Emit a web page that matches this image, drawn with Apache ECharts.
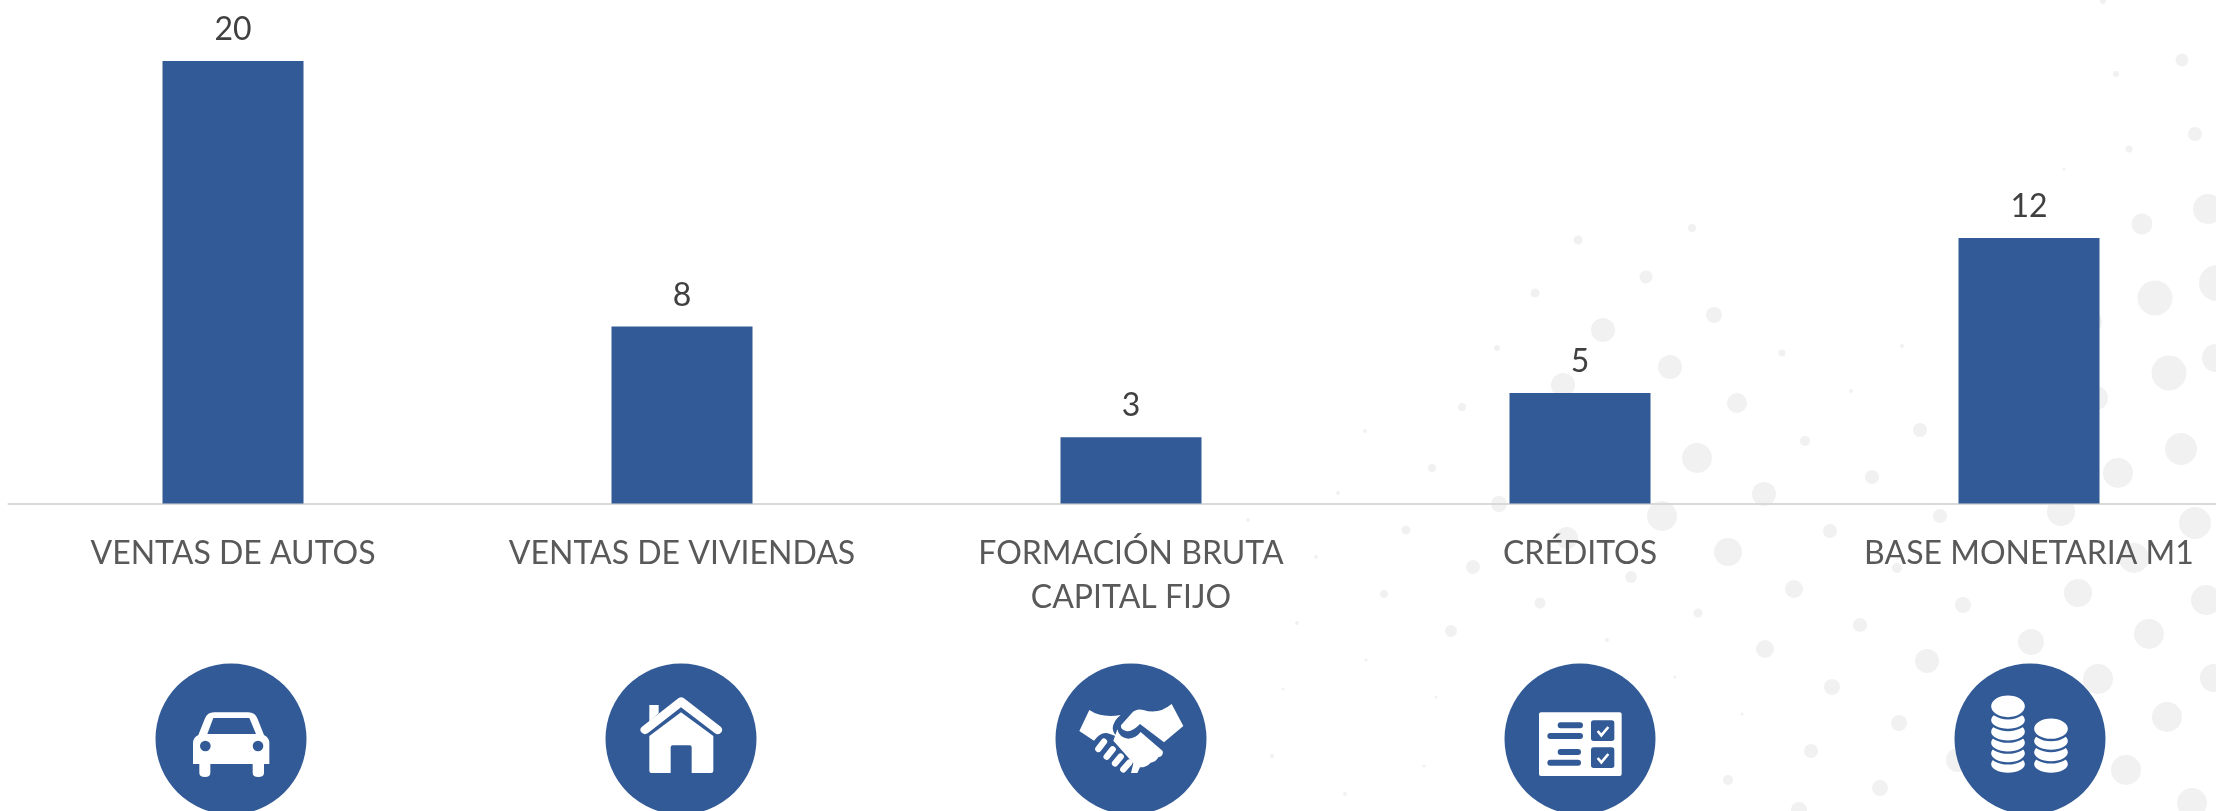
<!DOCTYPE html>
<html>
<head>
<meta charset="utf-8">
<style>html,body{margin:0;padding:0;background:#fff;overflow:hidden}#c{width:2216px;height:811px}</style>
<script src="https://cdn.jsdelivr.net/npm/echarts@6/dist/echarts.min.js"></script>
</head>
<body>
<div id="c"></div>
<script>
const categories = ['VENTAS DE AUTOS', 'VENTAS DE VIVIENDAS', 'FORMACIÓN BRUTA\nCAPITAL FIJO', 'CRÉDITOS', 'BASE MONETARIA M1'];
const values = [20, 8, 3, 5, 12];
const BLUE = '#325a96';

// Small horizontal nudges of the icon discs relative to their category centres (px)
const iconNudge = [-2, -1, 0, 0, 1];

// Decorative background dots: x, y, r
const decorDots = [[2182,60,6.4],[2116,74,3],[2195,134,7],[2129,149,3.5],[2064,169,1.5],[2103,1,3],[2208,209,15],[2142,224,10.5],[1692,228,4],[1578,240,4.5],[2217,283,18],[1646,277,6.5],[1535,293,4.5],[2155,298,17.5],[1714,315,8],[1603,330,12],[1497,348,3],[1782,353,3.5],[1902,346,2],[2090,322,12],[1670,367,12],[2169,373,17.5],[2216,358,14],[1563,385,12],[1851,391,2],[1462,407,4],[1737,403,10],[2096,398,12],[1365,431,2],[1920,430,7],[1805,441,5],[1697,458,15],[2181,449,16],[1432,468,4],[2118,473,15],[1872,477,7],[1499,504,8],[1662,516,15],[1764,494,12],[1940,516,7],[2061,512,14],[2195,523,16],[1830,531,7],[1406,530,4.5],[1728,552,14],[1567,538,11],[1473,567,7],[1631,577,6],[1897,568,5],[2134,558,15],[1794,589,9],[2078,593,14],[2206,600,15],[1963,605,8],[1384,594,4],[1540,603,5.5],[1316,557,2],[1698,613,4.5],[1860,625,7],[2149,634,15],[1451,631,6],[1297,623,2],[2031,642,13],[1765,649,9],[1607,640,2],[1927,661,12],[2098,679,15],[1832,687,8],[2214,678,14],[2167,717,15],[1899,723,8],[1811,751,7],[2126,770,15],[1728,780,5],[1880,788,8],[2192,803,15],[1799,810,8],[1675,677,1.5],[1742,714,1.5],[1436,697,1.5],[1366,660,1.5],[1283,689,1.5],[1272,756,2],[1424,766,1.5],[1345,794,2],[1248,520,2],[1338,493,2],[1958,760,12]];

// Icon drawing primitives, in a local box (3x pixels) with the circle centre at (303,267)
const W = '#ffffff';
const raw = (d, style) => ({d, style});
const coin = (cx, bottom, rx, ry) => ({cx, cy: bottom - ry, rx, ry});

const iconCar = [
  raw('M189 342L189 280Q189 262 205 255L225 205Q232 187 252 187L355 187Q375 187 382 205L402 255Q418 262 418 280L418 342L402 342L402 368Q402 381 385 381Q368 381 368 368L368 342L241 342L241 368Q241 381 225 381Q208 381 208 368L208 342Z', {fill: W}),
  raw('M250 204L358 204L378 252L232 252Z', {fill: BLUE}),
  {c: [226, 288, 16]}, {c: [384, 288, 16]}
];
const iconHouse = [
  raw('M208 165L236 165L236 190L208 215Z', {fill: W}),
  raw('M296 144Q303 139 311 144L422 230Q430 238 424 247Q416 257 405 250L303 172L203 250Q192 256 184 247Q177 238 186 230Z', {fill: W}),
  raw('M303 187L400 258L400 362Q400 369 393 369L335 369L335 292Q335 286 329 286L278 286Q272 286 272 292L272 369L214 369Q208 369 208 362L208 258Z', {fill: W})
];
const iconDeal = [
  raw('M178 180Q215 205 272 195Q250 212 248 235Q250 252 262 260L240 252Q215 240 192 272L148 243Z', {fill: W}),
  raw('M425 162L460 228L402 277L330 222Q305 248 288 243Q270 238 273 226L305 190Q318 175 340 180Q385 195 425 162Z', {fill: W}),
  raw('M262 238Q268 264 295 266Q318 264 332 246L398 303Q402 318 385 322Q378 336 362 338Q350 352 330 352L322 369L303 369L310 340L250 272Z', {fill: W}),
  raw('M205 297L222 275M230 320L248 298M255 340L272 320M280 358L298 338', {stroke: W, lineWidth: 19, lineCap: 'round', fill: 'none'})
];
const iconCredit = [
  raw('M186 187L422 187Q428 187 428 193L428 372Q428 378 422 378L186 378Q180 378 180 372L180 193Q180 187 186 187Z', {fill: W}),
  raw('M245 226L303 226M214 258L303 258M245 306L297 306M214 338L297 338', {stroke: BLUE, lineWidth: 18, lineCap: 'round', fill: 'none'}),
  raw('M344 211L398 211Q406 211 406 219L406 265Q406 273 398 273L344 273Q336 273 336 265L336 219Q336 211 344 211Z', {fill: BLUE}),
  raw('M344 292L398 292Q406 292 406 300L406 346Q406 354 398 354L344 354Q336 354 336 346L336 300Q336 292 344 292Z', {fill: BLUE}),
  raw('M356 243L367 256L388 231M356 324L367 337L388 312', {stroke: W, lineWidth: 8, fill: 'none'})
];
const iconCoins = [
  coin(237, 372, 54, 30), coin(237, 340, 54, 30), coin(237, 308, 54, 30), coin(237, 275, 54, 30), coin(237, 240, 54, 30), coin(237, 205, 54, 36),
  coin(366, 372, 54, 30), coin(366, 337, 54, 30), coin(366, 303, 54, 30), coin(366, 270, 54, 34)
];
const icons = [iconCar, iconHouse, iconDeal, iconCredit, iconCoins];

function iconChildren(icon) {
  const kids = [{type: 'circle', shape: {cx: 303, cy: 267, r: 226.5}, style: {fill: BLUE}}];
  icon.forEach(p => {
    if (p.d) {
      kids.push({type: 'path', shape: {pathData: p.d}, style: p.style});
    } else if (p.c) {
      kids.push({type: 'circle', shape: {cx: p.c[0], cy: p.c[1], r: p.c[2]}, style: {fill: BLUE}});
    } else {
      kids.push({type: 'ellipse', shape: {cx: p.cx, cy: p.cy, rx: p.rx, ry: p.ry}, style: {fill: W, stroke: BLUE, lineWidth: 7}});
    }
  });
  return kids;
}

const chart = echarts.init(document.getElementById('c'), null, {renderer: 'canvas', width: 2216, height: 811});
const FONT = 'Lato, "Open Sans", sans-serif';
chart.setOption({
  animation: false,
  backgroundColor: '#ffffff',
  grid: {left: 8.5, top: 61, width: 2245, height: 442.5, containLabel: false, outerBoundsMode: 'none'},
  xAxis: {
    type: 'category',
    data: categories,
    axisTick: {show: false},
    axisLine: {show: true, lineStyle: {color: '#d9d9d9', width: 2}},
    axisLabel: {interval: 0, margin: 28, color: '#595959', fontFamily: FONT, fontSize: 32, lineHeight: 44, hideOverlap: false}
  },
  yAxis: {type: 'value', min: 0, max: 20, show: false, splitLine: {show: false}},
  graphic: {elements: decorDots.map(d => ({type: 'circle', z: -10, silent: true, shape: {cx: d[0], cy: d[1], r: d[2]}, style: {fill: '#f1f1f1'}}))},
  series: [{
    type: 'bar',
    data: values,
    barWidth: 141,
    itemStyle: {color: BLUE},
    label: {show: true, position: 'top', distance: 15, color: '#404040', fontFamily: FONT, fontSize: 32}
  }, {
    type: 'custom',
    silent: true,
    clip: false,
    z: 5,
    data: categories.map((c, i) => [i, 0]),
    encode: {x: 0, y: 1},
    renderItem: (params, api) => {
      const i = api.value(0);
      const cx = api.coord([i, 0])[0] + iconNudge[i];
      return {type: 'group', x: cx - 101, y: 739 - 89, scaleX: 1 / 3, scaleY: 1 / 3, children: iconChildren(icons[i])};
    }
  }]
});
</script>
</body>
</html>
